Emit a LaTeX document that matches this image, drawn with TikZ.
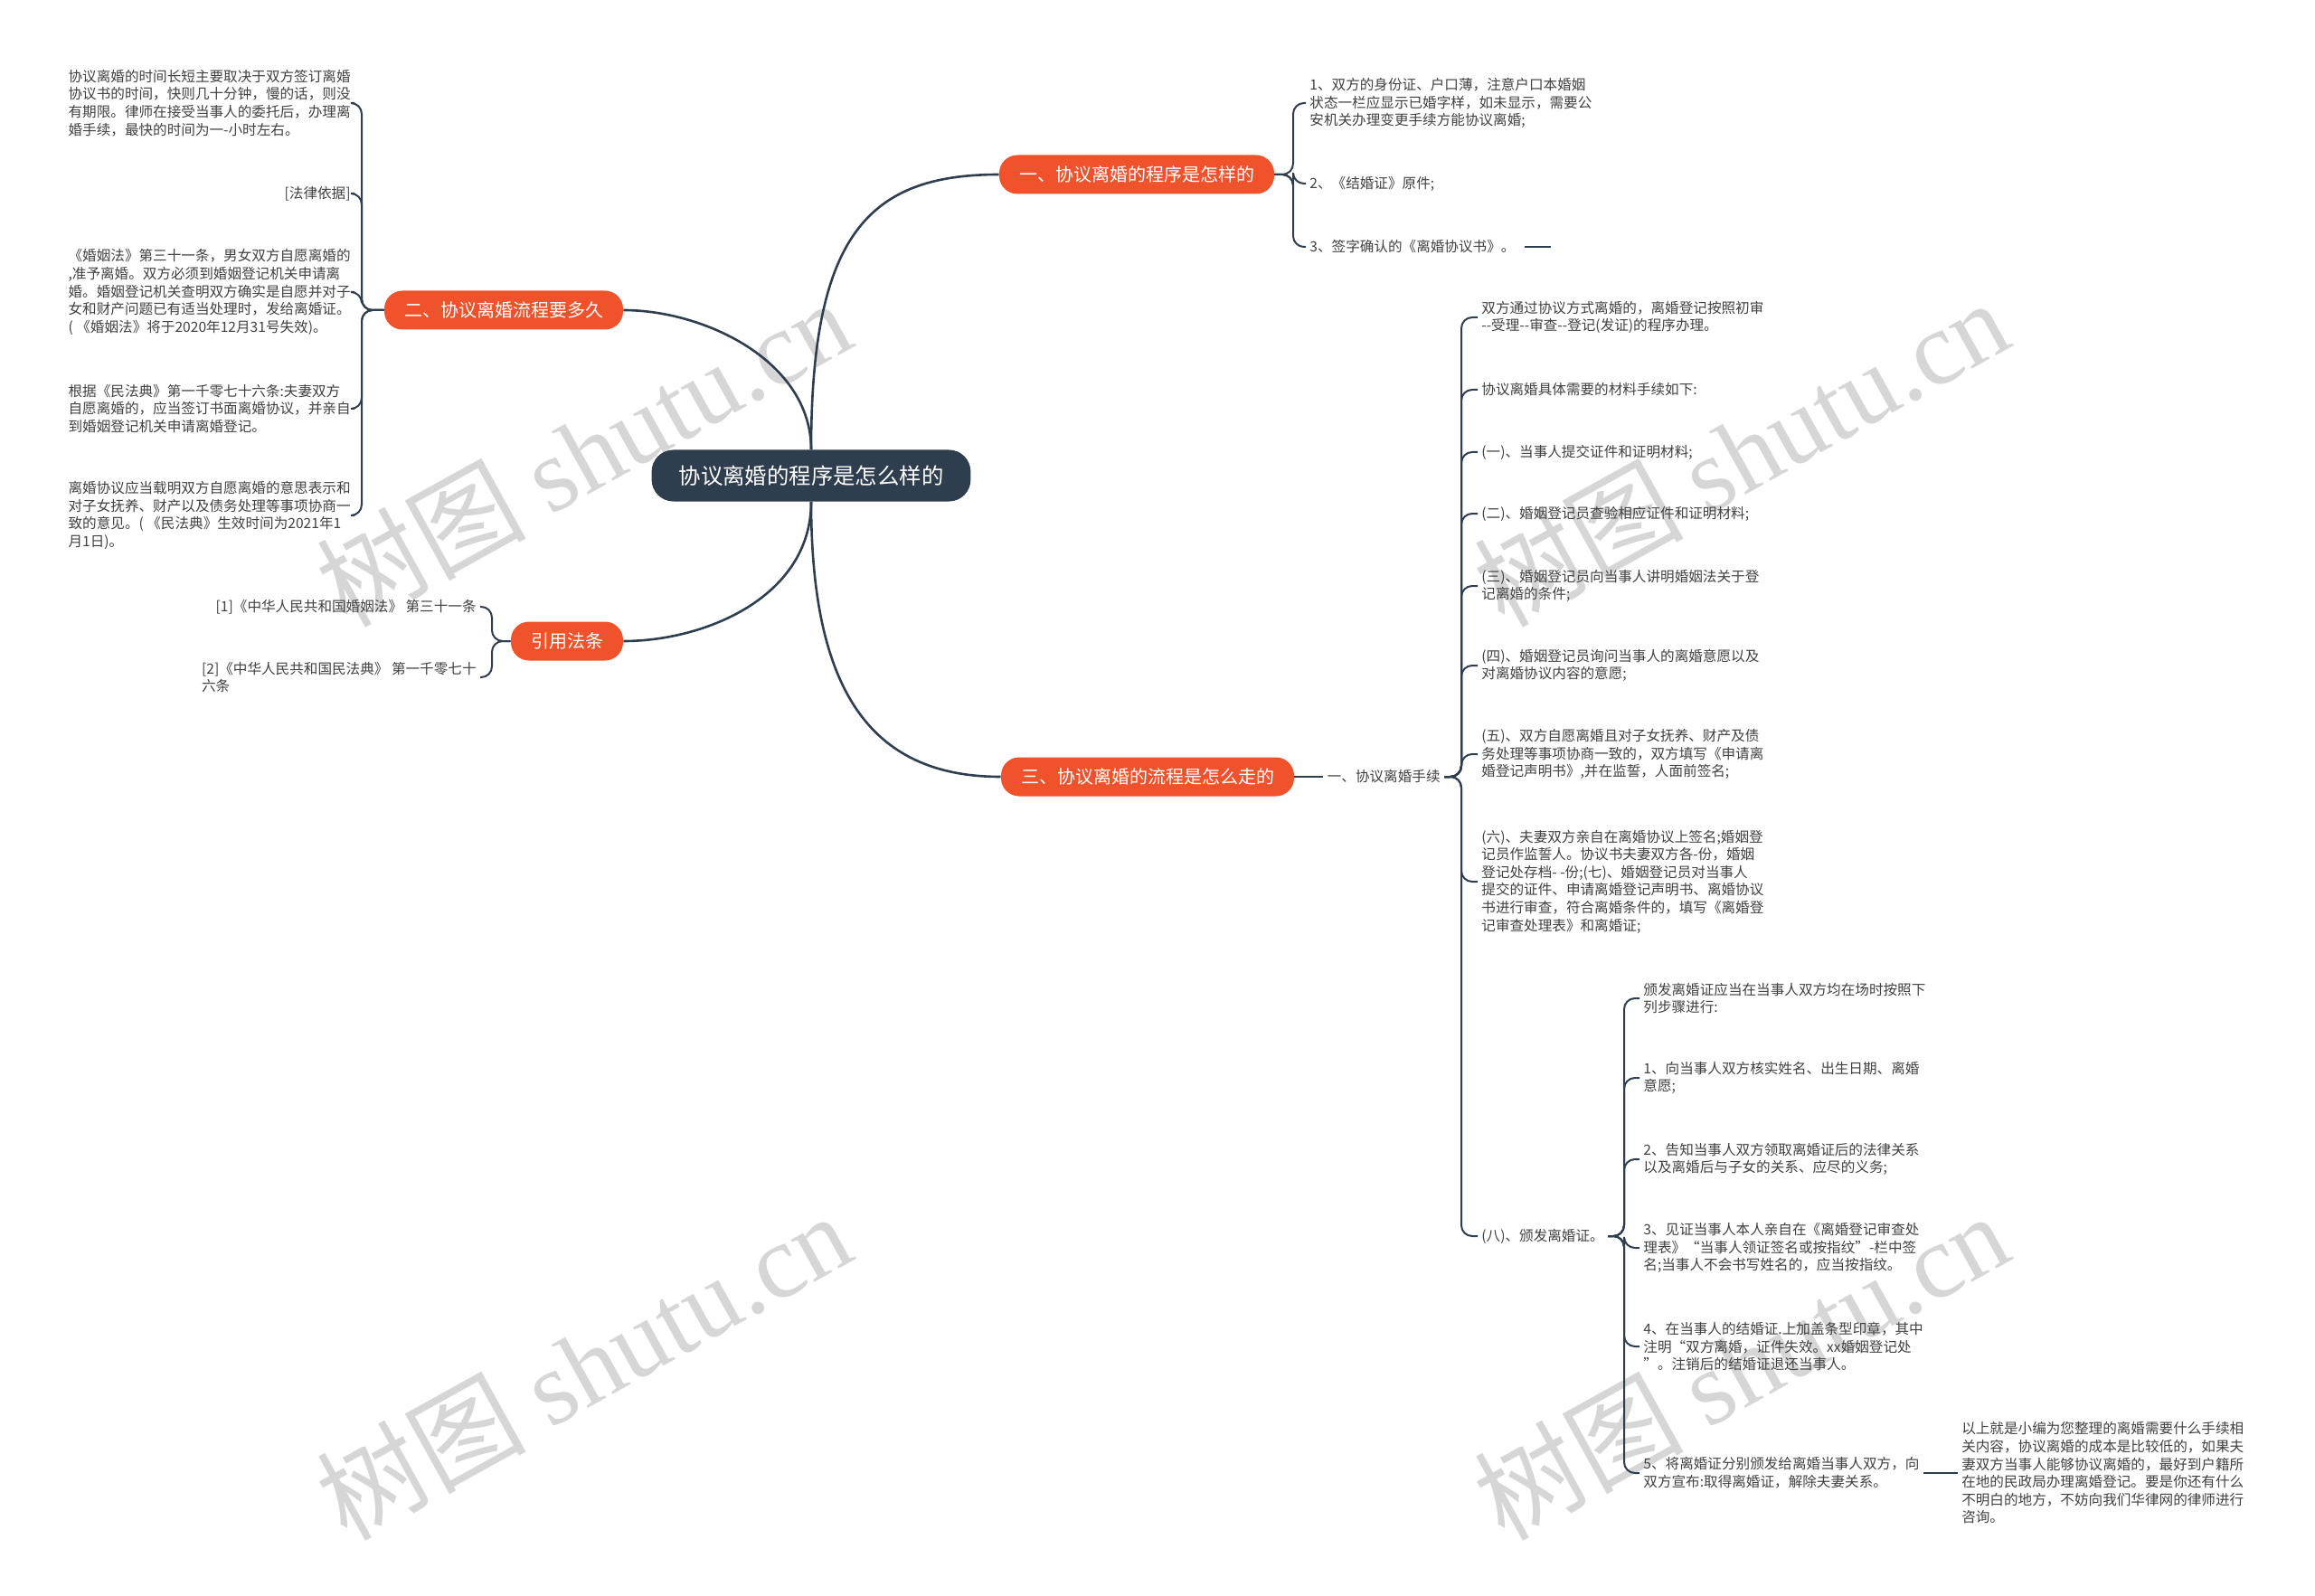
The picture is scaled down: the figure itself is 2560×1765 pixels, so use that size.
\documentclass[tikz,border=0pt]{standalone}
\usepackage{fontspec}
\setmainfont{Noto Sans CJK SC}
\newfontfamily\markfont{Liberation Serif}
\usetikzlibrary{positioning}
\definecolor{rootColor}{RGB}{47,62,79}
\definecolor{branchColor}{RGB}{240,82,43}
\definecolor{lineColor}{RGB}{47,62,79}
\definecolor{leafColor}{RGB}{64,64,64}
\definecolor{markColor}{RGB}{214,214,214}
\tikzset{root/.style={fill=rootColor, text=white, rounded corners=12pt, inner xsep=15pt, minimum height=28.5pt, font=\fontsize{12.2pt}{14pt}\selectfont}}
\tikzset{branch/.style={fill=branchColor, text=white, rounded corners=10pt, inner xsep=11pt, minimum height=21.5pt, font=\fontsize{10pt}{12pt}\selectfont}}
\tikzset{leaf/.style={text=leafColor, align=left, inner sep=2pt, anchor=west, font=\fontsize{7.8pt}{9.8pt}\selectfont}}
\tikzset{leafleft/.style={leaf, anchor=east}}
\tikzset{link/.style={draw=lineColor, line width=1pt, rounded corners=6pt}}
\tikzset{trunk/.style={draw=lineColor, line width=1.3pt}}
\tikzset{watermark/.style={text=markColor, rotate=29, font=\fontsize{58pt}{60pt}\selectfont}}

\begin{document}
\begin{tikzpicture}[x=0.5pt, y=-0.5pt]
	\pgfdeclarelayer{background}
	\pgfsetlayers{background,main}
	\useasboundingbox (0,0) rectangle (2560,1765);

	% Watermarks
	\begin{pgfonlayer}{background}
		\node (mark1) [watermark] at (645,500) {树图 {\markfont shutu.cn}};
		\node (mark2) [watermark] at (1925,500) {树图 {\markfont shutu.cn}};
		\node (mark3) [watermark] at (645,1510) {树图 {\markfont shutu.cn}};
		\node (mark4) [watermark] at (1925,1510) {树图 {\markfont shutu.cn}};
	\end{pgfonlayer}

	% Nodes
	\node (root) [root] at (897,526) {协议离婚的程序是怎么样的};

	\node (b1) [branch] at (1257,193) {一、协议离婚的程序是怎样的};
	\node (b2) [branch] at (557,343) {二、协议离婚流程要多久};
	\node (b4) [branch] at (627,709) {引用法条};
	\node (b3) [branch] at (1269,859) {三、协议离婚的流程是怎么走的};

	\node (b1c1) [leaf] at (1444,114) {1、双方的身份证、户口薄，注意户口本婚姻\\状态一栏应显示已婚字样，如未显示，需要公\\安机关办理变更手续方能协议离婚;};
	\node (b1c2) [leaf] at (1444,203) {2、《结婚证》原件;};
	\node (b1c3) [leaf] at (1444,273) {3、签字确认的《离婚协议书》。};

	\node (b2c1) [leafleft] at (392,114) {协议离婚的时间长短主要取决于双方签订离婚\\协议书的时间，快则几十分钟，慢的话，则没\\有期限。律师在接受当事人的委托后，办理离\\婚手续，最快的时间为一-小时左右。};
	\node (b2c2) [leafleft] at (392,214) {[法律依据]};
	\node (b2c3) [leafleft] at (392,323) {《婚姻法》第三十一条，男女双方自愿离婚的\\,准予离婚。双方必须到婚姻登记机关申请离\\婚。婚姻登记机关查明双方确实是自愿并对子\\女和财产问题已有适当处理时，发给离婚证。\\( 《婚姻法》将于2020年12月31号失效)。};
	\node (b2c4) [leafleft] at (392,452) {根据《民法典》第一千零七十六条:夫妻双方\\自愿离婚的，应当签订书面离婚协议，并亲自\\到婚姻登记机关申请离婚登记。};
	\node (b2c5) [leafleft] at (392,570) {离婚协议应当载明双方自愿离婚的意思表示和\\对子女抚养、财产以及债务处理等事项协商一\\致的意见。( 《民法典》生效时间为2021年1\\月1日)。};

	\node (b4c1) [leafleft] at (531,671) {[1]《中华人民共和国婚姻法》 第三十一条};
	\node (b4c2) [leafleft] at (531,749) {[2]《中华人民共和国民法典》 第一千零七十\\六条};

	\node (s1) [leaf, right=16pt of b3] {一、协议离婚手续};

	\node (a1) [leaf] at (1634,351) {双方通过协议方式离婚的，离婚登记按照初审\\-{}-受理-{}-审查-{}-登记(发证)的程序办理。};
	\node (a2) [leaf] at (1634,431) {协议离婚具体需要的材料手续如下:};
	\node (a3) [leaf] at (1634,500) {(一)、当事人提交证件和证明材料;};
	\node (a4) [leaf] at (1634,568) {(二)、婚姻登记员查验相应证件和证明材料;};
	\node (a5) [leaf] at (1634,648) {(三)、婚姻登记员向当事人讲明婚姻法关于登\\记离婚的条件;};
	\node (a6) [leaf] at (1634,736) {(四)、婚姻登记员询问当事人的离婚意愿以及\\对离婚协议内容的意愿;};
	\node (a7) [leaf] at (1634,834) {(五)、双方自愿离婚且对子女抚养、财产及债\\务处理等事项协商一致的，双方填写《申请离\\婚登记声明书》,并在监誓，人面前签名;};
	\node (a8) [leaf] at (1634,975) {(六)、夫妻双方亲自在离婚协议上签名;婚姻登\\记员作监誓人。协议书夫妻双方各-份，婚姻\\登记处存档- -份;(七)、婚姻登记员对当事人\\提交的证件、申请离婚登记声明书、离婚协议\\书进行审查，符合离婚条件的，填写《离婚登\\记审查处理表》和离婚证;};
	\node (a9) [leaf] at (1634,1367) {(八)、颁发离婚证。};

	\node (c1) [leaf] at (1813,1104) {颁发离婚证应当在当事人双方均在场时按照下\\列步骤进行:};
	\node (c2) [leaf] at (1813,1192) {1、向当事人双方核实姓名、出生日期、离婚\\意愿;};
	\node (c3) [leaf] at (1813,1282) {2、告知当事人双方领取离婚证后的法律关系\\以及离婚后与子女的关系、应尽的义务;};
	\node (c4) [leaf] at (1813,1380) {3、见证当事人本人亲自在《离婚登记审查处\\理表》“当事人领证签名或按指纹”-栏中签\\名;当事人不会书写姓名的，应当按指纹。};
	\node (c5) [leaf] at (1813,1489) {4、在当事人的结婚证.上加盖条型印章，其中\\注明“双方离婚，证件失效。xx婚姻登记处\\”。注销后的结婚证退还当事人。};
	\node (c6) [leaf] at (1813,1629) {5、将离婚证分别颁发给离婚当事人双方，向\\双方宣布:取得离婚证，解除夫妻关系。};

	\node (d1) [leaf, right=19pt of c6] {以上就是小编为您整理的离婚需要什么手续相\\关内容，协议离婚的成本是比较低的，如果夫\\妻双方当事人能够协议离婚的，最好到户籍所\\在地的民政局办理离婚登记。要是你还有什么\\不明白的地方，不妨向我们华律网的律师进行\\咨询。};

	\coordinate (b1brace) at (1430,193);
	\coordinate (b1tail) at (1715,273);
	\coordinate (b2brace) at (400,343);
	\coordinate (b4brace) at (544,709);
	\coordinate (s1brace) at (1616,859);
	\coordinate (a9brace) at (1796,1367);

	% Connectors
	\draw[trunk] (root.north) .. controls (897,260) and (960,193) .. (b1.west);
	\draw[trunk] (root.north) .. controls (897,400) and (780,343) .. (b2.east);
	\draw[trunk] (root.south) .. controls (897,660) and (780,709) .. (b4.east);
	\draw[trunk] (root.south) .. controls (897,760) and (960,859) .. (b3.west);

	\foreach \c in {b1c1,b1c2,b1c3}
		\draw[link] (b1.east) -- (b1brace) |- (\c.west);
	\draw[link] ([xshift=3pt]b1c3.east) -- (b1tail);

	\foreach \c in {b2c1,b2c2,b2c3,b2c4,b2c5}
		\draw[link] (b2.west) -- (b2brace) |- (\c.east);

	\foreach \c in {b4c1,b4c2}
		\draw[link] (b4.west) -- (b4brace) |- (\c.east);

	\draw[link] (b3.east) -- (s1.west);
	\foreach \c in {a1,a2,a3,a4,a5,a6,a7,a8,a9}
		\draw[link] (s1.east) -- (s1brace) |- (\c.west);

	\foreach \c in {c1,c2,c3,c4,c5,c6}
		\draw[link] (a9.east) -- (a9brace) |- (\c.west);
	\draw[link] (c6.east) -- (d1.west);

\end{tikzpicture}
\end{document}
